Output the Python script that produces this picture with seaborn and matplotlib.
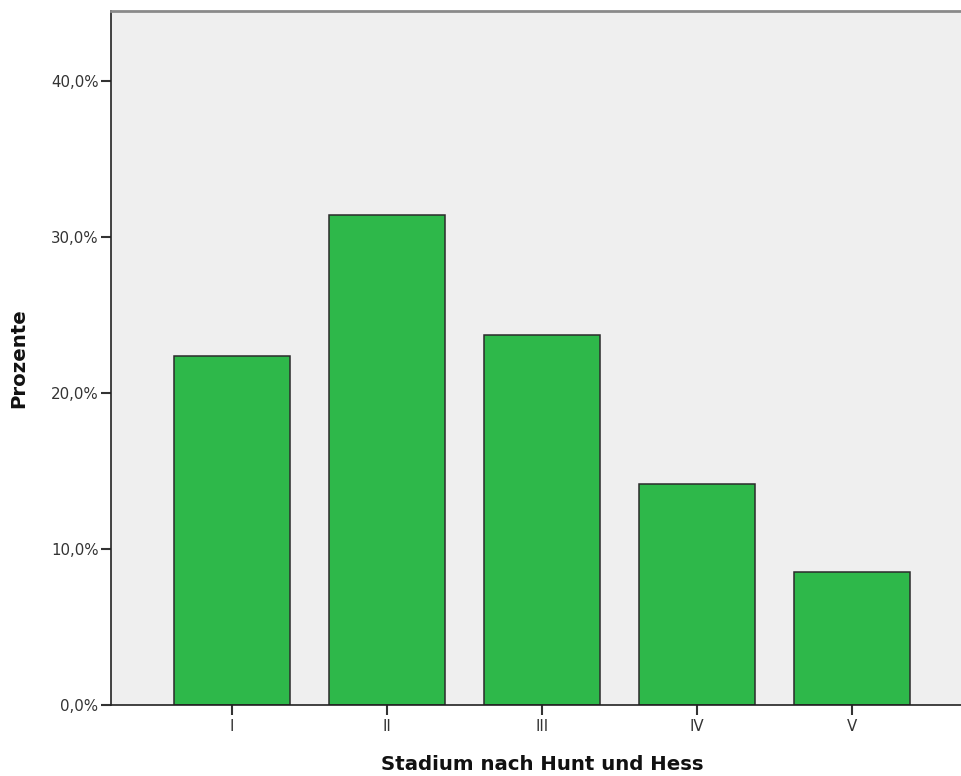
import matplotlib
matplotlib.use("Agg")
import matplotlib.pyplot as plt
import matplotlib.ticker as mticker
import seaborn as sns
import pandas as pd

# values
stadien = ["I", "II", "III", "IV", "V"]
prozente = [22.4, 31.4, 23.7, 14.2, 8.5]
y_ticks = [0, 10, 20, 30, 40]

sns.set_style("white")
plt.rcParams["font.family"] = ["DejaVu Sans"]

df = pd.DataFrame({"stadium": stadien, "prozent": prozente})

fig = plt.figure(figsize=(9.62, 7.76), dpi=100)
W, H = 962, 776
ax = fig.add_axes([111 / W, (H - 705) / H, 851 / W, (705 - 11) / H])
ax.set_facecolor("#efefef")

sns.barplot(data=df, x="stadium", y="prozent", color="#2eb84a", saturation=1,
            width=0.75, edgecolor="#2b2b2b", linewidth=1.1, ax=ax)

ax.set_xlim(-0.78, 4.71)
ax.set_ylim(0, 44.5)
ax.set_yticks(y_ticks)
ax.yaxis.set_major_formatter(mticker.FuncFormatter(lambda v, p: f"{v:.1f}%".replace(".", ",")))

for s in ["left", "bottom"]:
    ax.spines[s].set_color("#222222")
    ax.spines[s].set_linewidth(1.2)
ax.spines["right"].set_visible(False)
ax.spines["top"].set_color("#8a8a8a")
ax.spines["top"].set_linewidth(2)

ax.tick_params(axis="both", which="both", length=7, width=1.5, color="#333333",
               labelsize=10.8, labelcolor="#333333", direction="out",
               left=True, bottom=True)
ax.tick_params(axis="y", pad=2)
ax.tick_params(axis="x", pad=3)

ax.set_xlabel("Stadium nach Hunt und Hess", fontsize=14.2, fontweight="bold", color="#111111")
ax.set_ylabel("Prozente", fontsize=14.2, fontweight="bold", color="#111111")
ax.xaxis.set_label_coords((542 - 111) / 851, -0.072)
ax.yaxis.set_label_coords(-0.097, 0.5)

fig.savefig("out.png", dpi=100, facecolor="white")
